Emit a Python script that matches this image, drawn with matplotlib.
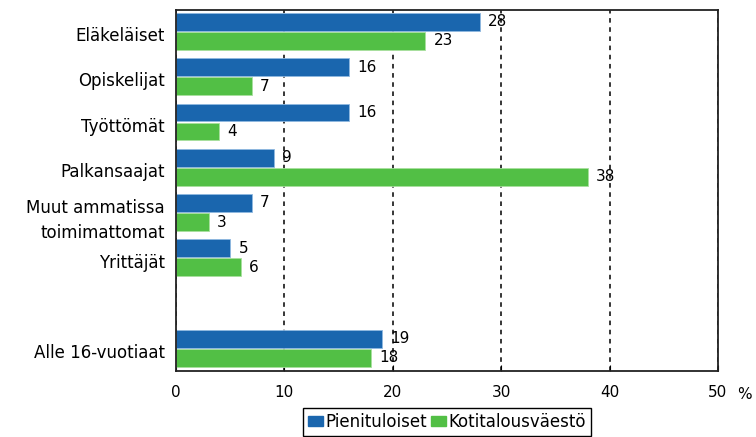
import numpy as np
import matplotlib.pyplot as plt
import matplotlib.transforms as mtransforms
from matplotlib.patches import Patch

plt.rcParams['font.family'] = ['DejaVu Sans']

# Tiedot
categories = ['Eläkeläiset', 'Opiskelijat', 'Työttömät', 'Palkansaajat',
              'Muut ammatissa\ntoimimattomat', 'Yrittäjät', 'Alle 16-vuotiaat']
pienituloiset = [28, 16, 16, 9, 7, 5, 19]
kotitalousvaesto = [23, 7, 4, 38, 3, 6, 18]
series_names = ['Pienituloiset', 'Kotitalousväestö']
xticks = [0, 10, 20, 30, 40, 50]

blue = '#1a66ae'
green = '#52bf45'

# rivit: kuusi ryhmää, tyhjä väli, sitten alle 16-vuotiaat
y = np.array([0, 1, 2, 3, 4, 5, 7])

fig = plt.figure(figsize=(7.56, 4.37), dpi=100)
ax = fig.add_axes([0.2328, 0.151, 0.7169, 0.826])

h = 0.39
b1 = ax.barh(y - 0.21, pienituloiset, height=h, color=blue,
             edgecolor='#8fb8e0', linewidth=0.6)
b2 = ax.barh(y + 0.21, kotitalousvaesto, height=h, color=green,
             edgecolor='#a8e09e', linewidth=0.6)

ax.bar_label(b1, fmt='%d', padding=6, fontsize=11)
ax.bar_label(b2, fmt='%d', padding=6, fontsize=11)

ax.set_xlim(0, 50)
ax.set_ylim(7.5, -0.47)
ax.set_xticks(xticks)
ax.set_yticks(y)
ax.set_yticklabels(categories, fontsize=12, linespacing=1.45)
ax.tick_params(axis='y', length=0, pad=8)
ax.tick_params(axis='x', direction='in', length=4, pad=10, labelsize=11)

# tekstit hieman alemmas kuten alkuperäisessä
for lab in ax.get_yticklabels():
    lab.set_transform(lab.get_transform() +
                      mtransforms.ScaledTranslation(0, -2 / 72, fig.dpi_scale_trans))

ax.grid(axis='x', linestyle=(0, (3, 3)), color='black', linewidth=1.1)
ax.set_axisbelow(True)
for s in ax.spines.values():
    s.set_color('#222222')
    s.set_linewidth(1.3)

fig.text(0.985, 0.098, '%', fontsize=11, ha='center', va='center')

handles = [Patch(facecolor=blue, edgecolor=blue),
           Patch(facecolor=green, edgecolor=green)]
leg = fig.legend(handles, series_names, loc='upper center',
                 bbox_to_anchor=(0.591, 0.0664), ncol=2, fontsize=12,
                 frameon=True, fancybox=False, edgecolor='black',
                 framealpha=1, handlelength=0.9, handleheight=0.5,
                 handletextpad=0.15, columnspacing=0.2, borderpad=0.3,
                 borderaxespad=0)
leg.get_frame().set_linewidth(1.0)

fig.savefig('out.png', dpi=100)
